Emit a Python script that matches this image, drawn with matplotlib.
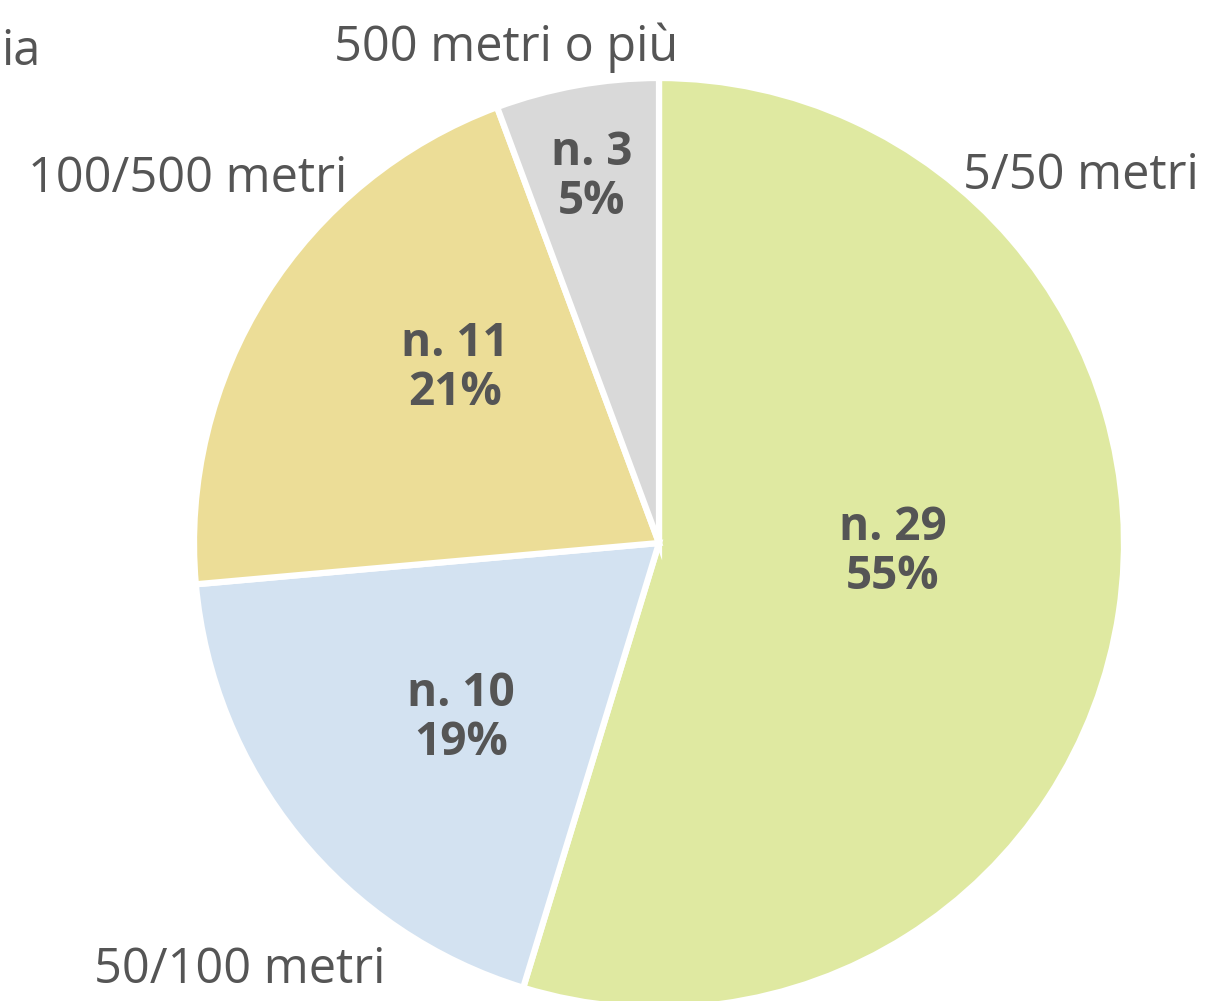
import numpy as np
import matplotlib.pyplot as plt

# dati
categorie = ['5/50 metri', '50/100 metri', '100/500 metri', '500 metri o più']
conteggi = [29, 10, 11, 3]
percentuali = ['55%', '19%', '21%', '5%']
colori = ['#dfe9a1', '#d3e2f1', '#ecdd97', '#d9d9d9']

W, H = 1211, 1001
fig = plt.figure(figsize=(W / 100, H / 100), dpi=100)
ax = fig.add_axes([0, 0, 1, 1])

cx, cy, r = 659, H - 543, 465
ax.pie(conteggi, colors=colori, startangle=90, counterclock=False,
       center=(cx, cy), radius=r, frame=True,
       wedgeprops=dict(edgecolor='white', linewidth=4.5))
ax.set_xlim(0, W)
ax.set_ylim(0, H)
ax.axis('off')

testo = '#555555'
font = 'Open Sans'

# etichette interne (pixel dell'immagine)
pos_int = [(893, 552), (461, 718), (455, 368), (592, 177)]
for (x, y), n, p in zip(pos_int, conteggi, percentuali):
    ax.text(x, H - y, 'n. %d\n%s' % (n, p), ha='center', va='center',
            fontsize=33, fontweight='bold', color=testo, family=font,
            linespacing=1.08)

# etichette esterne
pos_est = [(1081, 176), (240, 970), (188, 179), (506, 48)]
for (x, y), c in zip(pos_est, categorie):
    ax.text(x, H - y, c, ha='center', va='center', fontsize=35, color=testo, family=font)

ax.text(1, H - 52, 'ia', ha='left', va='center', fontsize=35, color=testo, family=font)

fig.savefig('out.png', dpi=100)
